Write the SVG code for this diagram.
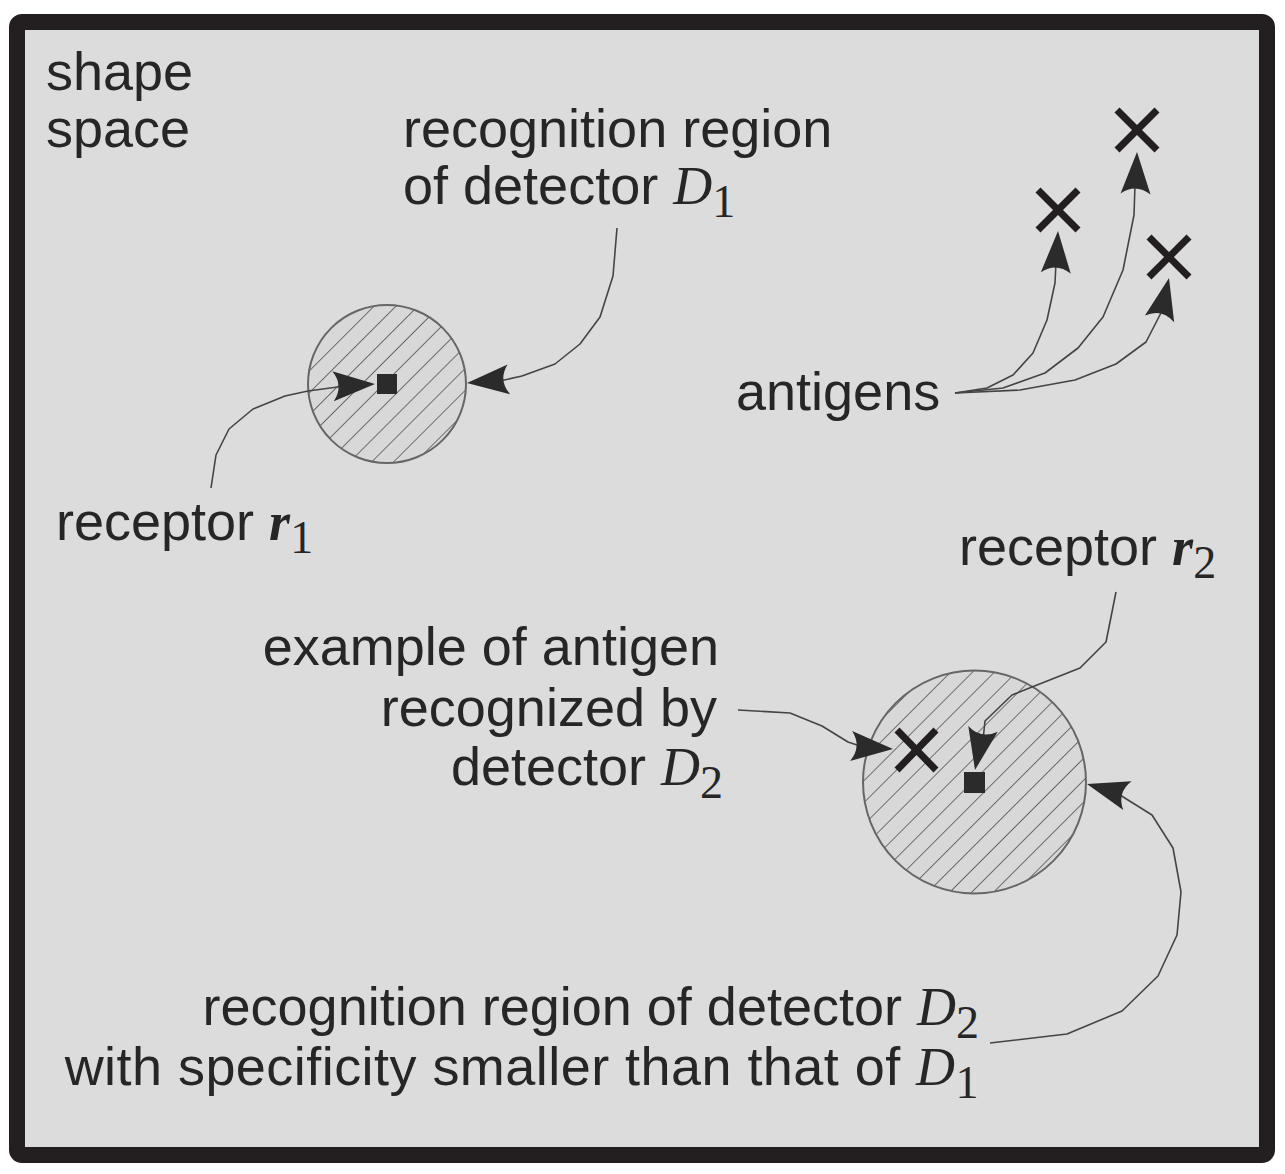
<svg xmlns="http://www.w3.org/2000/svg" xmlns:xlink="http://www.w3.org/1999/xlink" width="1285" height="1174" viewBox="0 0 1285 1174">
<style>
  .t { font-family: "Liberation Sans", Arial, sans-serif; font-size: 54px; fill: #262626; }
  .it { font-family: "Liberation Serif", "Times New Roman", serif; font-style: italic; }
  .bi { font-family: "Liberation Serif", "Times New Roman", serif; font-style: italic; font-weight: bold; }
  .sub { font-family: "Liberation Serif", "Times New Roman", serif; font-size: 46px; }
  .conn { fill: none; stroke: #444; stroke-width: 1.6; stroke-linejoin: round; }
  .x { stroke: #231f20; stroke-width: 7; }
  .region { stroke: #666; stroke-width: 2; }
  .rec { fill: #2b2b2b; }
</style>
<defs>
  <pattern id="hatch" patternUnits="userSpaceOnUse" width="15.5" height="15.5" patternTransform="rotate(45)">
    <rect width="15.5" height="15.5" fill="#d8d8d8"/>
    <line x1="0" y1="0" x2="0" y2="15.5" stroke="#4a4a4a" stroke-width="1.5"/>
  </pattern>
  <path id="ah" d="M0,0 L-42,-15 Q-31,0 -42,15 Z" fill="#2b2b2b"/>
</defs>
<rect x="0" y="0" width="1285" height="1174" fill="#ffffff"/>
<rect id="frame" x="17" y="22" width="1250" height="1133" rx="5" fill="#dcdcdc" stroke="#231f20" stroke-width="16"/>

<g id="label-shape-space">
  <text class="t" x="46" y="90">shape</text>
  <text class="t" x="46" y="147">space</text>
</g>

<g id="detector-D1">
  <circle class="region" cx="387" cy="384" r="79" fill="url(#hatch)"/>
  <rect class="rec" x="377" y="374" width="20" height="20"/>
</g>

<g id="detector-D2">
  <circle class="region" cx="974.5" cy="782" r="111.5" fill="url(#hatch)"/>
  <rect class="rec" x="964" y="772" width="21" height="21"/>
  <g class="x"><line x1="897" y1="730" x2="936" y2="770"/><line x1="936" y1="730" x2="897" y2="770"/></g>
</g>

<g id="antigens-marks" class="x">
  <line x1="1038" y1="190" x2="1078" y2="230"/><line x1="1078" y1="190" x2="1038" y2="230"/>
  <line x1="1117" y1="110" x2="1157" y2="150"/><line x1="1157" y1="110" x2="1117" y2="150"/>
  <line x1="1149" y1="237" x2="1189" y2="277"/><line x1="1189" y1="237" x2="1149" y2="277"/>
</g>

<g id="label-region-D1">
  <text class="t" x="403" y="147">recognition region</text>
  <text class="t" x="403" y="204">of detector <tspan class="it">D</tspan><tspan class="sub" dy="13">1</tspan></text>
</g>

<g id="label-antigens">
  <text class="t" x="736" y="410">antigens</text>
</g>

<g id="label-receptor-r1">
  <text class="t" x="56" y="540">receptor <tspan class="bi">r</tspan><tspan class="sub" dy="13">1</tspan></text>
</g>

<g id="label-receptor-r2">
  <text class="t" x="959" y="565">receptor <tspan class="bi">r</tspan><tspan class="sub" dy="13">2</tspan></text>
</g>

<g id="label-example">
  <text class="t" x="719" y="665" text-anchor="end">example of antigen</text>
  <text class="t" x="717" y="726" text-anchor="end">recognized by</text>
  <text class="t" x="723" y="785" text-anchor="end">detector <tspan class="it">D</tspan><tspan class="sub" dy="13">2</tspan></text>
</g>

<g id="label-region-D2">
  <text class="t" x="979" y="1025" text-anchor="end">recognition region of detector <tspan class="it">D</tspan><tspan class="sub" dy="13">2</tspan></text>
  <text class="t" x="979" y="1085" text-anchor="end" letter-spacing="0.45">with specificity smaller than that of <tspan class="it">D</tspan><tspan class="sub" dy="13">1</tspan></text>
</g>

<g id="connectors">
  <path class="conn" d="M211,488 L216,455 L229,429 L253,409 L285,396 L308,391 L345,386"/>
  <use xlink:href="#ah" transform="translate(375,384) rotate(-3)"/>

  <path class="conn" d="M617,228 L613,276 L600,317 L580,344 L555,364 L522,376 L500,381"/>
  <use xlink:href="#ah" transform="translate(467,383) rotate(175)"/>

  <path class="conn" d="M955,393 L987,388 L1013,375 L1033,353 L1047,320 L1055,283 L1056,262"/>
  <use xlink:href="#ah" transform="translate(1058,231) rotate(-87)"/>

  <path class="conn" d="M955,393 L1003,388 L1045,373 L1078,348 L1103,317 L1123,270 L1134,215 L1135,185"/>
  <use xlink:href="#ah" transform="translate(1137,152) rotate(-88)"/>

  <path class="conn" d="M955,393 L1020,390 L1075,380 L1116,364 L1146,342 L1163,309"/>
  <use xlink:href="#ah" transform="translate(1169,278) rotate(-77)"/>

  <path class="conn" d="M738,710 L790,713 L822,726 L848,742 L863,747"/>
  <use xlink:href="#ah" transform="translate(893,749) rotate(4)"/>

  <path class="conn" d="M1116,592 L1106,642 L1080,668 L1032,687 L1012,695 L985,721 L983,740"/>
  <use xlink:href="#ah" transform="translate(975,770) rotate(101)"/>

  <path class="conn" d="M990,1043 L1067,1034 L1122,1011 L1158,976 L1177,935 L1181,892 L1173,848 L1152,815 L1120,795"/>
  <use xlink:href="#ah" transform="translate(1087,784) rotate(-164)"/>
</g>
</svg>
